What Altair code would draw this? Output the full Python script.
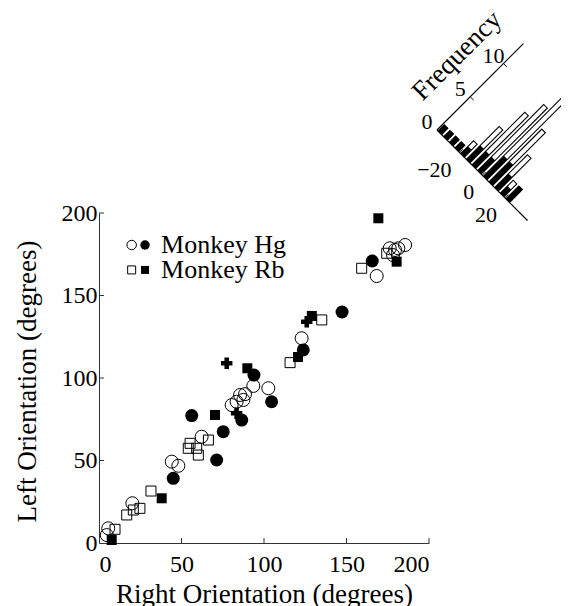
import math
import altair as alt
import pandas as pd

# ---------------- scatter data (degrees) ----------------
hg_open_x = [4.7, 5.6, 20.2, 44.1, 48.1, 62.2, 80.4, 83.4, 85.5, 87.5, 88.5, 93.5, 102.6, 122.8, 168.3, 176.2, 178.2, 179.4, 181.4, 185.5]
hg_open_y = [4.8, 8.9, 24.1, 49.3, 46.8, 64.4, 83.6, 85.6, 89.7, 86.7, 90.2, 95.2, 93.8, 124.1, 161.8, 178.6, 174.5, 177.6, 178.6, 180.6]
hg_fill_x = [45.0, 56.2, 71.3, 75.3, 86.5, 93.9, 104.6, 123.8, 147.3, 165.6]
hg_fill_y = [39.2, 77.2, 50.3, 67.5, 74.5, 101.8, 85.6, 117.0, 140.0, 170.9]
rb_open_x = [9.7, 16.8, 20.8, 24.8, 31.5, 54.1, 55.2, 59.2, 60.2, 66.3, 115.8, 135.0, 159.2, 174.4]
rb_open_y = [8.3, 17.0, 20.0, 21.0, 31.5, 57.4, 60.4, 57.4, 53.3, 62.4, 109.3, 135.2, 166.5, 175.6]
rb_fill_x = [7.7, 38.0, 70.3, 89.9, 120.6, 129.0, 169.3, 180.4]
rb_fill_y = [1.8, 27.1, 77.6, 105.9, 112.7, 137.6, 196.8, 170.5]
cross_x = [77.4, 83.4, 125.9]
cross_y = [108.9, 78.6, 134.1]

axis_ticks = [0, 50, 100, 150, 200]
legend_labels = ["Monkey Hg", "Monkey Rb"]

# ---------------- inset histogram (difference in degrees, stacked counts) ----------------
bin_deg = [-37.5, -32.5, -27.5, -22.5, -17.5, -12.5, -7.5, -2.5,
           2.5, 7.5, 12.5, 17.5, 22.5, 27.5, 32.5, 37.5]
filled_counts = [1, 1, 1, 1, 1, 2, 2, 2, 3, 3, 2, 1, 2, 0, 0, 0]
open_counts = [0, 0, 0, 0, 1, 3, 6, 8, 9, 5, 3, 1, 0, 0, 0, 0]
freq_ticks = [0, 5, 10]
diff_ticks = [-20, 0, 20]
freq_max = 13
diff_min, diff_max = -40, 40

# ---------------- geometry of the rotated inset ----------------
PXU = 1.65                      # pixels per main-axis unit
OX = (437 - 99) / PXU           # inset origin, main data units
OY = (543 - 130) / PXU
K = 1 / (math.sqrt(2) * PXU)
PD = 1.6                        # px per degree along difference axis
PC = 9.4                        # px per count along frequency axis


def ix(d, c):
    return f"{OX} + ({PD}*(({d}) - ({diff_min})) + {PC}*({c}))*{K}"


def iy(d, c):
    return f"{OY} + (-{PD}*(({d}) - ({diff_min})) + {PC}*({c}))*{K}"


FONT = "Liberation Serif"
XS = alt.Scale(domain=[0, 200], nice=False, zero=False)
YS = alt.Scale(domain=[0, 200], nice=False, zero=False)
XAX = alt.Axis(values=axis_ticks, ticks=False, tickSize=0, labelPadding=9, grid=False,
               titleX=165, titleY=59, titleBaseline="alphabetic", titleAlign="center")
YAX = alt.Axis(values=axis_ticks, ticks=False, tickSize=0, labelPadding=2, grid=False,
               titleX=-64, titleY=168, titleBaseline="alphabetic", titleAlign="center", titleAngle=270)
XT = "Right Orientation (degrees)"
YT = "Left Orientation (degrees)"


def X(f=None, datum=None):
    if datum is not None:
        return alt.X(datum=datum, scale=XS, axis=XAX, title=XT)
    return alt.X(f"{f}:Q", scale=XS, axis=XAX, title=XT)


def Y(f=None, datum=None):
    if datum is not None:
        return alt.Y(datum=datum, scale=YS, axis=YAX, title=YT)
    return alt.Y(f"{f}:Q", scale=YS, axis=YAX, title=YT)


rows = []
for kind, xs, ys in [("hg_open", hg_open_x, hg_open_y), ("hg_fill", hg_fill_x, hg_fill_y),
                     ("rb_open", rb_open_x, rb_open_y), ("rb_fill", rb_fill_x, rb_fill_y),
                     ("cross", cross_x, cross_y)]:
    for a, b in zip(xs, ys):
        rows.append({"x": a, "y": b, "kind": kind})
pts_df = pd.DataFrame(rows)


def pts(kind, shape, filled, size, sw=1.0):
    return (alt.Chart(pts_df).transform_filter(alt.datum.kind == kind)
            .mark_point(shape=shape, filled=filled, size=size, color="black",
                        strokeWidth=sw, opacity=1)
            .encode(x=X("x"), y=Y("y")))


hist_df = pd.DataFrame({"d": bin_deg, "filled": filled_counts, "open": open_counts})
BAR_W = 6.2


def seg(lo, hi, color, width, cond):
    return (alt.Chart(hist_df)
            .transform_calculate(total="datum.filled + datum.open")
            .transform_filter(cond)
            .transform_calculate(x1=ix("datum.d", lo), y1=iy("datum.d", lo),
                                 x2=ix("datum.d", hi), y2=iy("datum.d", hi))
            .mark_rule(color=color, strokeWidth=width, strokeCap="butt")
            .encode(x=X("x1"), y=Y("y1"), x2="x2:Q", y2="y2:Q"))


bar_outline = seg("0", "datum.total", "black", BAR_W, "datum.total > 0")
bar_white = seg("datum.filled + 0.1", "datum.total - 0.11", "white", BAR_W - 2.2, "datum.open > 0")

axes_df = pd.DataFrame({"d1": [diff_min, diff_min], "c1": [0, 0],
                        "d2": [diff_min, diff_max], "c2": [freq_max, 0]})
inset_axes = (alt.Chart(axes_df)
              .transform_calculate(x1=ix("datum.d1", "datum.c1"), y1=iy("datum.d1", "datum.c1"),
                                   x2=ix("datum.d2", "datum.c2"), y2=iy("datum.d2", "datum.c2"))
              .mark_rule(color="black", strokeWidth=1.2)
              .encode(x=X("x1"), y=Y("y1"), x2="x2:Q", y2="y2:Q"))

fdf = pd.DataFrame({"f": freq_ticks})
freq_labels = (alt.Chart(fdf)
               .transform_calculate(px=ix(diff_min, "datum.f"), py=iy(diff_min, "datum.f"),
                                    lab="format(datum.f, 'd')")
               .mark_text(font=FONT, fontSize=22, align="center", baseline="middle",
                          dx=-10, dy=-8, color="black")
               .encode(x=X("px"), y=Y("py"), text="lab:N"))
freq_tickmarks = (alt.Chart(fdf).transform_filter("datum.f > 0")
                  .transform_calculate(x1=ix(diff_min, "datum.f"), y1=iy(diff_min, "datum.f"),
                                       x2=ix(diff_min + 3, "datum.f"), y2=iy(diff_min + 3, "datum.f"))
                  .mark_rule(color="black", strokeWidth=1)
                  .encode(x=X("x1"), y=Y("y1"), x2="x2:Q", y2="y2:Q"))

ddf = pd.DataFrame({"d": diff_ticks})
diff_labels = (alt.Chart(ddf)
               .transform_calculate(px=ix("datum.d", 0), py=iy("datum.d", 0),
                                    lab="format(datum.d, 'd')")
               .mark_text(font=FONT, fontSize=22, align="right", baseline="middle",
                          dx=-8, dy=17, color="black")
               .encode(x=X("px"), y=Y("py"), text="lab:N"))
diff_tickmarks = (alt.Chart(ddf)
                  .transform_calculate(x1=ix("datum.d", 0), y1=iy("datum.d", 0),
                                       x2=ix("datum.d", 0.5), y2=iy("datum.d", 0.5))
                  .mark_rule(color="black", strokeWidth=1)
                  .encode(x=X("x1"), y=Y("y1"), x2="x2:Q", y2="y2:Q"))

freq_title = (alt.Chart(pd.DataFrame({"t": ["Frequency"]}))
              .transform_calculate(px=ix(diff_min - 38.2 / PD, 7.1), py=iy(diff_min - 38.2 / PD, 7.1))
              .mark_text(font=FONT, fontSize=27, angle=315, align="center", baseline="middle",
                         color="black")
              .encode(x=X("px"), y=Y("py"), text="t:N"))

# main axis inward ticks
tdf = pd.DataFrame({"v": axis_ticks[1:]})
xticks = (alt.Chart(tdf).mark_rule(color="#333", strokeWidth=1)
          .encode(x=X("v"), y=alt.value(330), y2=alt.value(325)))
yticks = (alt.Chart(tdf).mark_rule(color="#333", strokeWidth=1)
          .encode(y=Y("v"), x=alt.value(0), x2=alt.value(5)))

# manual legend
legend_layers = []
for i, (lab, shape, size) in enumerate([(legend_labels[0], "circle", 90), (legend_labels[1], "square", 64)]):
    yv = 180.6 - 15.1 * i
    for xv, filled in [(19.8, False), (27.9, True)]:
        legend_layers.append(
            alt.Chart(pd.DataFrame({"k": [lab]})).mark_point(shape=shape, filled=filled, size=size,
                                                            color="black", strokeWidth=1, opacity=1)
            .encode(x=X(datum=xv), y=Y(datum=yv)))
    legend_layers.append(
        alt.Chart(pd.DataFrame({"k": [lab]})).mark_text(font=FONT, fontSize=26, align="left",
                                                       baseline="middle", color="black")
        .encode(x=X(datum=37.6), y=Y(datum=yv), text="k:N"))

chart = alt.layer(
    pts("rb_open", "square", False, 100),
    pts("hg_open", "circle", False, 169),
    pts("rb_fill", "square", True, 100),
    pts("hg_fill", "circle", True, 169),
    pts("cross", "cross", True, 130),
    xticks, yticks,
    bar_outline, bar_white,
    inset_axes, freq_tickmarks, diff_tickmarks,
    freq_labels, diff_labels, freq_title,
    *legend_layers,
).properties(
    width=330, height=330,
    autosize=alt.AutoSizeParams(type="none"),
    padding={"left": 91, "top": 205, "right": 132, "bottom": 63},
    background="white",
).configure_view(stroke=None).configure_axis(
    domainColor="#333", domainWidth=1,
    labelFont=FONT, labelFontSize=24, labelColor="black",
    titleFont=FONT, titleFontSize=27, titleColor="black", titleFontWeight="normal",
)

chart.save("out.html", embed_options={"renderer": "svg", "actions": False})
